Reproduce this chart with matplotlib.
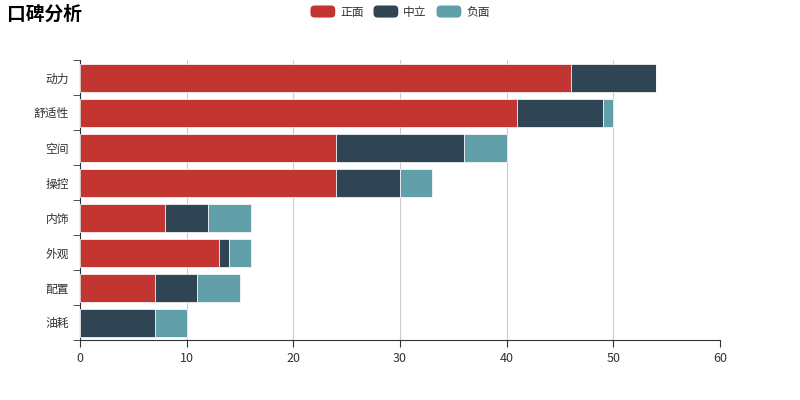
import matplotlib.pyplot as plt
import numpy as np
from matplotlib.legend_handler import HandlerPatch
from matplotlib.patches import FancyBboxPatch

plt.rcParams['font.family'] = ['Noto Sans CJK SC', 'DejaVu Sans']

categories = ['动力', '舒适性', '空间', '操控', '内饰', '外观', '配置', '油耗']
positive = [46, 41, 24, 24, 8, 13, 7, 0]
neutral = [8, 8, 12, 6, 4, 1, 4, 7]
negative = [0, 1, 4, 3, 4, 2, 4, 3]
series_names = ['正面', '中立', '负面']
colors = ['#c23531', '#2f4554', '#61a0a8']


class RoundHandler(HandlerPatch):
    # rounded legend swatch like echarts
    def create_artists(self, legend, orig_handle, xdescent, ydescent,
                       width, height, fontsize, trans):
        p = FancyBboxPatch((-xdescent, -ydescent), width, height,
                           boxstyle='round,pad=0,rounding_size=3',
                           facecolor=orig_handle.get_facecolor(),
                           edgecolor='none', transform=trans)
        return [p]


fig = plt.figure(figsize=(8, 4), dpi=100)
ax = fig.add_axes([0.1, 0.15, 0.8, 0.7])

y = np.arange(len(categories))
left = np.zeros(len(categories))
bars = []
for vals, name, col in zip([positive, neutral, negative], series_names, colors):
    b = ax.barh(y, vals, left=left, height=0.8, color=col, label=name,
                edgecolor='white', linewidth=0.5, zorder=3)
    bars.append(b.patches[0])
    left += np.array(vals)

ax.set_ylim(len(categories) - 0.5, -0.5)
ax.set_xlim(0, 60)
ax.set_xticks(range(0, 61, 10))
ax.set_yticks(y)
ax.set_yticklabels(categories)
ax.set_yticks(np.arange(-0.5, len(categories), 1), minor=True)
ax.tick_params(axis='y', which='major', length=0, pad=8, labelsize=8.5, labelcolor='#333333')
ax.tick_params(axis='y', which='minor', length=5, color='#333333')
ax.tick_params(axis='x', length=5, color='#333333', labelsize=9, labelcolor='#333333')
ax.grid(axis='x', color='#cccccc', linewidth=0.8, zorder=0)
for s in ['top', 'right']:
    ax.spines[s].set_visible(False)
ax.spines['left'].set_color('#333333')
ax.spines['bottom'].set_color('#333333')

fig.text(0.009, 0.965, '口碑分析', fontsize=13.5, fontweight='bold', va='center', ha='left', color='#000000')
fig.legend(bars, series_names, loc='center', bbox_to_anchor=(0.5, 0.97), ncol=3, frameon=False,
           fontsize=8.5, handlelength=2.1, handleheight=1.2, columnspacing=0.85,
           handletextpad=0.4, labelcolor='#333333',
           handler_map={p: RoundHandler() for p in bars})

fig.savefig('out.png', dpi=100)
